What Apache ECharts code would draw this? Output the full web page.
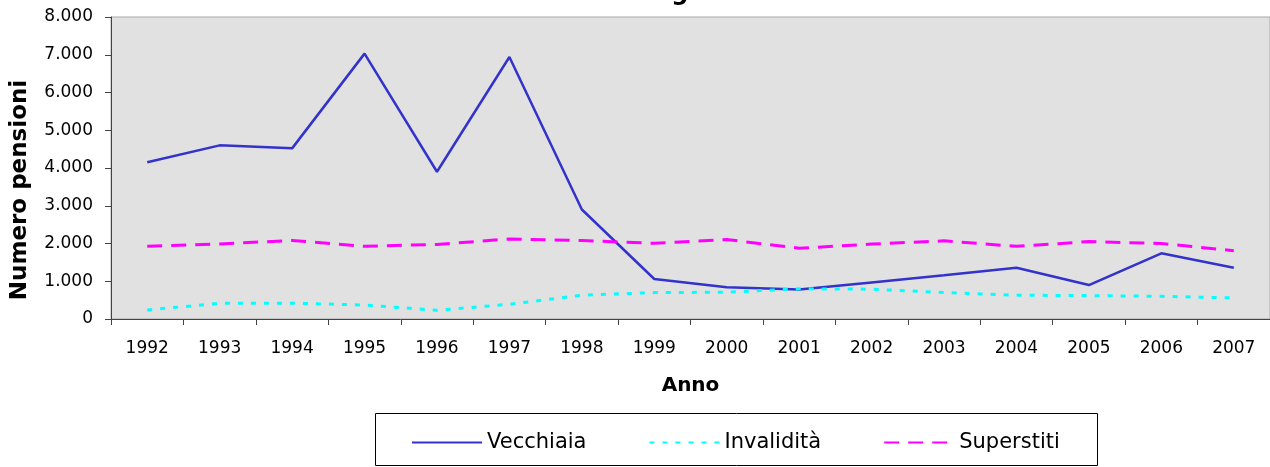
<!DOCTYPE html>
<html>
<head>
<meta charset="utf-8">
<script src="https://cdn.jsdelivr.net/npm/echarts@6/dist/echarts.min.js"></script>
<style>
  html, body { margin: 0; padding: 0; background: #fff; }
  #chart { width: 1270px; height: 467px; }
</style>
</head>
<body>
<div id="chart"></div>
<script>
var anni = ['1992', '1993', '1994', '1995', '1996', '1997', '1998', '1999',
            '2000', '2001', '2002', '2003', '2004', '2005', '2006', '2007'];
var vecchiaia = [4150, 4600, 4520, 7030, 3900, 6940, 2900, 1060, 840, 780, 970, 1160, 1360, 900, 1740, 1360];
var invalidita = [240, 415, 420, 370, 230, 390, 630, 700, 710, 800, 790, 700, 630, 620, 600, 560];
var superstiti = [1930, 1990, 2080, 1925, 1975, 2120, 2080, 2005, 2105, 1875, 1985, 2070, 1925, 2050, 2000, 1810];

var font = 'DejaVu Sans';

function migliaia(v) {
  return String(v).replace(/\B(?=(\d{3})+(?!\d))/g, '.');
}

var myChart = echarts.init(document.getElementById('chart'));
var option = {
  animation: false,
  title: {
    text: 'categorie',
    left: 613,
    top: -18,
    padding: 0,
    textStyle: { fontFamily: font, fontSize: 24, fontWeight: 'bold', color: '#000' }
  },
  grid: {
    left: 111, top: 17, right: 0, bottom: 148,
    show: true,
    backgroundColor: '#E1E1E1',
    borderColor: '#A8A8A8',
    borderWidth: 1
  },
  legend: {
    left: 406,
    top: 427,
    itemWidth: 70,
    itemHeight: 14,
    itemGap: 62,
    itemStyle: { opacity: 0 },
    textStyle: { fontFamily: font, fontSize: 21, color: '#000' },
    data: ['Vecchiaia', 'Invalidità', 'Superstiti']
  },
  graphic: [
    {
      type: 'rect',
      shape: { x: 375.5, y: 413.5, width: 722, height: 52 },
      style: { fill: 'none', stroke: '#000', lineWidth: 1 }
    },
    {
      type: 'text',
      x: 20, y: 190,
      rotation: Math.PI / 2,
      style: {
        text: 'Numero pensioni',
        font: 'bold 23px "DejaVu Sans"',
        fill: '#000',
        align: 'center',
        verticalAlign: 'middle'
      }
    }
  ],
  xAxis: {
    type: 'category',
    data: anni,
    boundaryGap: true,
    name: 'Anno',
    nameLocation: 'middle',
    nameGap: 57,
    nameTextStyle: { fontFamily: font, fontSize: 20, fontWeight: 'bold', color: '#000' },
    axisLine: { lineStyle: { color: '#444', width: 1 } },
    axisTick: { show: true, length: 6, lineStyle: { color: '#444' } },
    axisLabel: { fontFamily: font, fontSize: 17, color: '#000', margin: 21 },
    splitLine: { show: false }
  },
  yAxis: {
    type: 'value',
    min: 0,
    max: 8000,
    interval: 1000,
    axisLine: { show: true, lineStyle: { color: '#444', width: 1 } },
    axisTick: { show: true, length: 6, lineStyle: { color: '#444' } },
    axisLabel: {
      fontFamily: font, fontSize: 17, color: '#000', margin: 18,
      formatter: migliaia
    },
    splitLine: { show: false }
  },
  series: [
    {
      name: 'Vecchiaia',
      type: 'line',
      data: vecchiaia,
      symbol: 'none',
      lineStyle: { color: '#3333CC', width: 2.5 },
      itemStyle: { color: '#3333CC' }
    },
    {
      name: 'Invalidità',
      type: 'line',
      data: invalidita,
      symbol: 'none',
      lineStyle: { color: '#00FFFF', width: 3, type: [5, 8] },
      itemStyle: { color: '#00FFFF' }
    },
    {
      name: 'Superstiti',
      type: 'line',
      data: superstiti,
      symbol: 'none',
      lineStyle: { color: '#FF00FF', width: 3, type: [15, 9] },
      itemStyle: { color: '#FF00FF' }
    }
  ]
};
myChart.setOption(option);
</script>
</body>
</html>
